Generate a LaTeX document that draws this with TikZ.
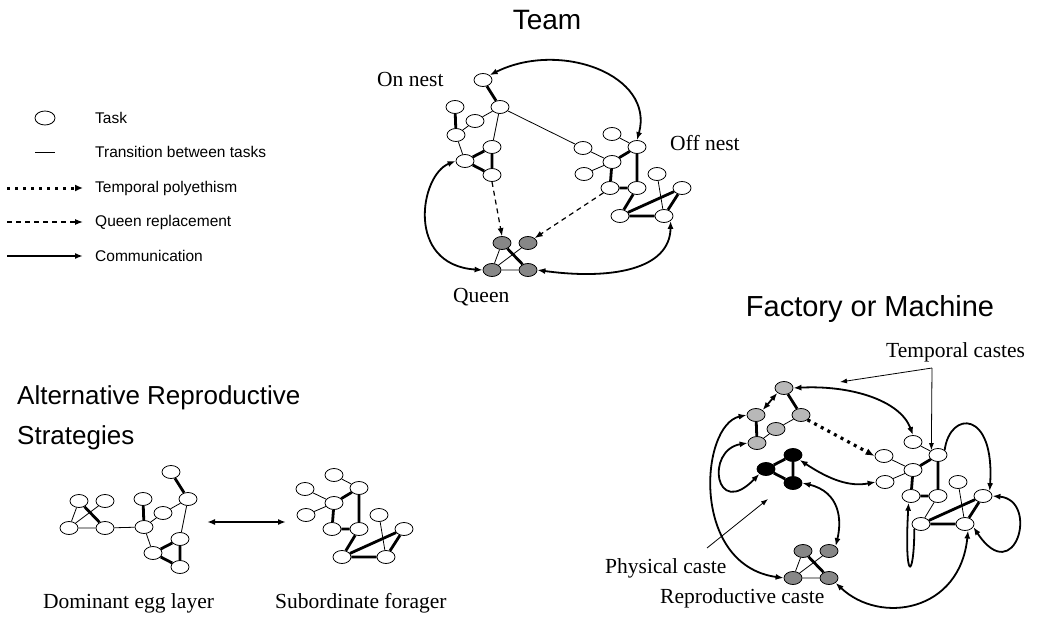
\documentclass[tikz,border=0pt]{standalone}
\usepackage{fontspec}
\setmainfont{Liberation Serif}
\setsansfont{Liberation Sans}
\usetikzlibrary{calc}
\usetikzlibrary{arrows.meta}
\usetikzlibrary{shapes.geometric}

% task groups, placed where they sit in the team graph
\newcommand{\onnestnodes}{%
  \node[onup] (a) at (483,80) {};
  \node[onup] (b) at (500,107) {};
  \node[onup] (c) at (455,107) {};
  \node[onup] (d) at (475,121) {};
  \node[onup] (e) at (456,135) {};
  \node[onlow] (f) at (492,147) {};
  \node[onlow] (g) at (465,161) {};
  \node[onlow] (h) at (492,175) {};
}
\newcommand{\offnestnodes}{%
  \node[offn] (i) at (583,148) {};
  \node[offn] (j) at (612,134) {};
  \node[offn] (k) at (637,147) {};
  \node[offn] (l) at (612,162) {};
  \node[offn] (m) at (584,174) {};
  \node[offn] (n) at (610,188) {};
  \node[offn] (o) at (637,188) {};
  \node[offn] (p) at (657,174) {};
  \node[offn] (q) at (682,188) {};
  \node[offn] (r) at (620,216) {};
  \node[offn] (s) at (664,216) {};
}
\newcommand{\queennodes}{%
  \node[qn] (q1) at (502,243) {};
  \node[qn] (q2) at (528,243) {};
  \node[qn] (q3) at (492,270) {};
  \node[qn] (q4) at (528,270) {};
}
% transitions
\newcommand{\onnesttop}{%
  \draw[tline] (e) -- (d) (d) -- (b);
  \draw[tthick] (a) -- (b) (c) -- (e);
}
\newcommand{\onnestlow}{%
  \draw[tthick] (g) -- (f) (f) -- (h) (g) -- (h);
}
\newcommand{\offnestedges}{%
  \draw[tline] (j) -- (k) (i) -- (l) (l) -- (m) (p) -- (s);
  \draw[tthick] (l) -- (k) (l) -- (n) (k) -- (o) (n) -- (o)
    (r) -- (q) (r) -- (s) (s) -- (q);
}
\newcommand{\queenedges}{%
  \draw[tline] (q1) -- (q3) (q2) -- (q3) (q3) -- (q4);
  \draw[tthick] (q1) -- (q4);
}

\begin{document}
\begin{tikzpicture}[x=1pt,y=-1pt]
\tikzstyle{task}=[ellipse,draw,line width=0.8pt,fill=white,minimum width=18pt,minimum height=13pt,inner sep=0pt]
\tikzstyle{onup}=[task]
\tikzstyle{onlow}=[task]
\tikzstyle{offn}=[task]
\tikzstyle{qn}=[task,fill=black!47]
\tikzstyle{tline}=[line width=0.8pt]
\tikzstyle{tthick}=[line width=2.8pt]
\tikzstyle{comm}=[line width=1.8pt,<->,>={Latex[length=8pt,width=6pt]}]
\tikzstyle{qrep}=[line width=1.2pt,dash pattern=on 5pt off 4pt,->,>={Latex[length=8pt,width=6pt]}]
\tikzstyle{tpoly}=[line width=3.2pt,dash pattern=on 3pt off 4.5pt,->,>={Latex[length=9pt,width=7pt]}]
\tikzstyle{note}=[line width=0.8pt,->,>={Latex[length=7pt,width=5pt]}]
\tikzstyle{lbl}=[font=\fontsize{21.5}{24}\selectfont,inner sep=0pt,anchor=base west]
\tikzstyle{title}=[font=\sffamily\fontsize{26}{30}\selectfont,inner sep=0pt]
\tikzstyle{legtxt}=[font=\sffamily\fontsize{15.5}{18}\selectfont,inner sep=0pt,anchor=west]

\fill[white] (0,0) rectangle (1039,618);
\useasboundingbox (0,0) rectangle (1039,618);

% legend
\node[task,minimum width=20pt,minimum height=14pt] (lgtask) at (45,118) {};
\node[legtxt] (lgtasktxt) at (95,118) {Task};
\coordinate (lgta) at (35,152); \coordinate (lgtb) at (55,152);
\draw[tline] (lgta) -- (lgtb);
\node[legtxt] (lgtrtxt) at (95,152) {Transition between tasks};
\coordinate (lgpa) at (7,188); \coordinate (lgpb) at (83,188);
\draw[line width=3pt,dash pattern=on 3pt off 5pt,->,>={Latex[length=8pt,width=7pt]}] (lgpa) -- (lgpb);
\node[legtxt] (lgpotxt) at (95,188) {Temporal polyethism};
\coordinate (lgqa) at (7,222); \coordinate (lgqb) at (83,222);
\draw[qrep] (lgqa) -- (lgqb);
\node[legtxt] (lgqrtxt) at (95,222) {Queen replacement};
\coordinate (lgca) at (7,256); \coordinate (lgcb) at (83,256);
\draw[comm,->] (lgca) -- (lgcb);
\node[legtxt] (lgcotxt) at (95,256) {Communication};

% Team
\node[title,anchor=base,font=\sffamily\fontsize{28}{32}\selectfont] (teamttl) at (547,30) {Team};
\begin{scope}[name prefix=t-]
  \onnestnodes
  \offnestnodes
  \queennodes
  \onnesttop
  \onnestlow
  \draw[tline] (b) -- (f) (e) -- (g) (b) -- (i);
  \offnestedges
  \draw[tthick] (o) -- (r);
  \queenedges
\end{scope}
\draw[comm] (t-a.north east) .. controls (560,40) and (655,75) .. (t-k.north);
\draw[comm] (t-g.west) .. controls (420,175) and (405,265) .. (t-q3.west);
\draw[comm] (t-q4.east) .. controls (610,280) and (670,270) .. (t-s.south east);
\draw[qrep] (t-h.south) -- (t-q1.north);
\draw[qrep] (t-n.south west) -- (t-q2.north east);
\node[lbl] (onlbl) at (377,87) {On nest};
\node[lbl] (offlbl) at (670,150) {Off nest};
\node[lbl] (queenlbl) at (453,302) {Queen};

% Alternative reproductive strategies
\node[title,anchor=base west] (altttl) at (17,404) {Alternative Reproductive};
\node[title,anchor=base west] (altttlb) at (17,444) {Strategies};
\begin{scope}[shift={(-423,258)},name prefix=d-,qn/.style={task}]
  \queennodes
  \queenedges
\end{scope}
\begin{scope}[shift={(-312,392)},name prefix=d-]
  \onnestnodes
  \onnesttop
  \onnestlow
  \draw[tline] (b) -- (f) (e) -- (g);
\end{scope}
\draw[tline] (d-q4) -- (d-e);
\begin{scope}[shift={(-278,341)},name prefix=s-]
  \offnestnodes
  \offnestedges
  \draw[tthick] (o) -- (r);
\end{scope}
\coordinate (altl) at (207,522);
\coordinate (altr) at (286,522);
\draw[comm] (altl) -- (altr);
\node[lbl] (domlbl) at (43,608) {Dominant egg layer};
\node[lbl] (sublbl) at (275,608) {Subordinate forager};

% Factory or machine
\node[title,anchor=base,font=\sffamily\fontsize{29}{33}\selectfont] (factttl) at (870,316) {Factory or Machine};
\begin{scope}[shift={(301,308)},name prefix=f-,
    onup/.style={task,fill=black!28},onlow/.style={task,fill=black}]
  \onnestnodes
  \offnestnodes
  \queennodes
  \onnesttop
  \onnestlow
  \offnestedges
  \draw[tline] (o) -- (r);
  \queenedges
\end{scope}
\draw[comm] (f-a.south west) -- (f-c.north east);
\draw[comm] (f-a.east) .. controls (850,385) and (900,400) .. (f-j.north);
\draw[tpoly] (f-b.south east) -- (f-i.west);
\draw[comm] (f-c.west) .. controls (700,425) and (690,565) .. (f-q3.west);
\draw[comm] (f-e.west) .. controls (705,450) and (715,520) .. (f-g.south west);
\draw[comm] (f-h.east) .. controls (840,492) and (842,520) .. (f-q2.north east);
\draw[comm] (f-f.south east) .. controls (830,480) and (850,487) .. (f-m.west);
\draw[comm] (f-q4.south east) .. controls (880,625) and (960,612) .. (f-s.-65);
\draw[comm,->] (f-k.north east) .. controls (950,410) and (995,410) .. (f-q.north east);
\draw[comm] (f-q.east) .. controls (1040,500) and (1015,590) .. (f-s.-20);
\draw[comm,->] (f-r.south west) .. controls (914,582) and (904,582) .. (f-n.-110);
\node[lbl] (templbl) at (886,357) {Temporal castes};
\coordinate (tcj) at (932,368);
\coordinate (tcl) at (840,382);
\draw[note] (tcj) -- (tcl);
\draw[note] (tcj) -- (f-k.north west);
\node[lbl] (physlbl) at (605,573) {Physical caste};
\coordinate (pcs) at (707,548);
\coordinate (pce) at (768,499);
\draw[note] (pcs) -- (pce);
\node[lbl] (reprolbl) at (660,603) {Reproductive caste};
\end{tikzpicture}
\end{document}
